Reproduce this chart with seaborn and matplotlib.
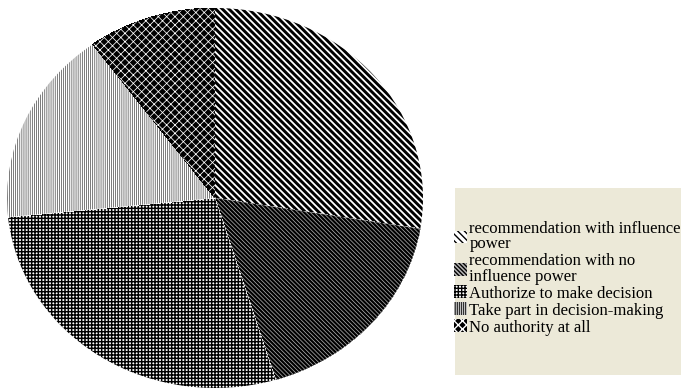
import matplotlib
matplotlib.use("Agg")
import matplotlib.pyplot as plt
from matplotlib.patches import Rectangle
import seaborn as sns

# Share of respondents by level of authority in decisions (%)
categories = [
    "recommendation with influence\npower",
    "recommendation with no\ninfluence power",
    "Authorize to make decision",
    "Take part in decision-making",
    "No authority at all",
]
shares = [27.6, 17.7, 28.1, 16.6, 10.0]

# Monochrome fill styles per slice: (face, hatch colour, hatch, hatch width)
hatch_styles = [
    ("white", "black", "\\" * 5, 2.1),
    ("#b4b4b4", "black", "\\" * 8, 1.6),
    ("white", "black", "+" * 5, 1.05),
    ("white", "#303030", "|" * 8, 0.45),
    ("black", "white", "x" * 4, 0.55),
]

sns.set_theme(style="white")
plt.rcParams["font.family"] = ["Liberation Serif", "DejaVu Serif"]

W, H = 681, 392
fig = plt.figure(figsize=(W / 100, H / 100), dpi=100)
fig.patch.set_facecolor("white")

# elliptical pie filling its axes box
ax = fig.add_axes([7 / W, 4 / H, 416 / W, 380 / H])
wedges, _ = ax.pie(shares, startangle=90, counterclock=False,
                   wedgeprops=dict(linewidth=0))
for w, (fc, hc, hatch, hlw) in zip(wedges, hatch_styles):
    w.set_facecolor(fc)
    w.set_edgecolor(hc)
    w.set_linewidth(0)
    w.set_hatch(hatch)
    w.set_antialiased(False)
    if hasattr(w, "set_hatch_linewidth"):
        w.set_hatch_linewidth(hlw)
ax.set_aspect("auto")
ax.set_xlim(-1, 1)
ax.set_ylim(-1, 1)
ax.axis("off")

# legend panel
fig.patches.append(Rectangle((455 / W, 17 / H), (W - 455) / W, (204 - 17) / H,
                             transform=fig.transFigure, facecolor="#ece9d8",
                             edgecolor="none", zorder=0))
leg = fig.legend(wedges, categories, loc="upper left",
                 bbox_to_anchor=(454 / W, 1 - 221 / H), frameon=False,
                 fontsize=12, handlelength=0.8, handleheight=0.8,
                 handletextpad=0.12, labelspacing=0.05, borderpad=0,
                 borderaxespad=0)
for t in leg.get_texts():
    t.set_linespacing(0.95)
    t.set_color("black")

fig.savefig("out.png", dpi=100, facecolor="white")
